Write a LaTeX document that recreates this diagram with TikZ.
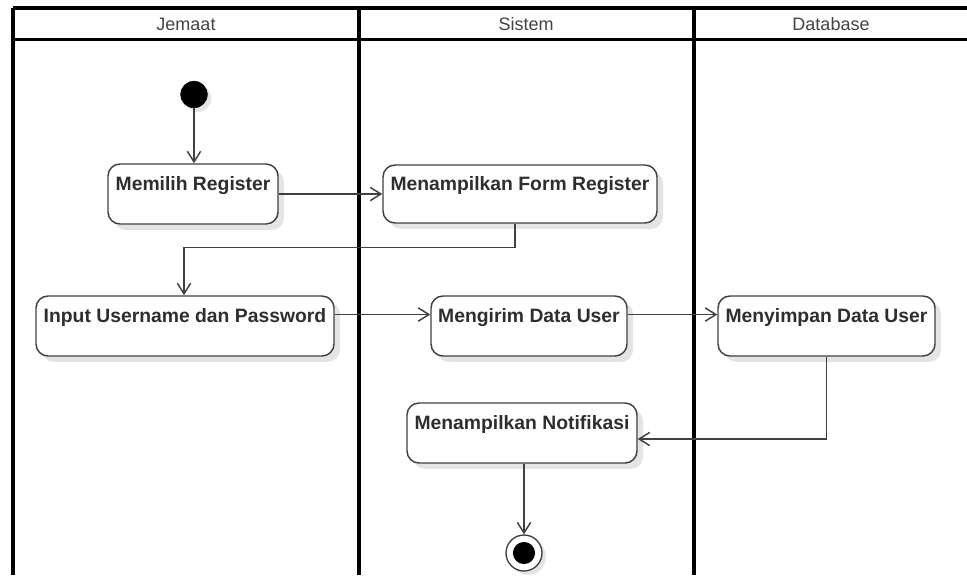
\documentclass[tikz,border=0pt]{standalone}
\usepackage{fontspec}
\setmainfont{Liberation Sans}
\usetikzlibrary{arrows.meta,shadows}
\definecolor{edge}{HTML}{404040}
\definecolor{ink}{HTML}{2E2E2E}
\definecolor{shade}{HTML}{E4E4E4}
\tikzset{
  lane/.style={line width=2.4pt, draw=black},
  lanetitle/.style={font=\fontsize{13.5}{16}\selectfont, text=ink!90, anchor=center},
  actbox/.style={draw=edge, line width=1.1pt, rounded corners=9pt, fill=white,
    font=\bfseries\fontsize{14.5}{17}\selectfont, text=ink,
    text height=10.5pt, text depth=16.5pt, inner sep=0pt,
    drop shadow={shadow xshift=4.5pt, shadow yshift=-4.5pt, fill=shade, opacity=1}},
  startdot/.style={circle, fill=black, draw=black, minimum size=20pt, inner sep=0pt,
    drop shadow={shadow xshift=3pt, shadow yshift=-3pt, fill=shade, opacity=1}},
  enddot/.style={circle, fill=white, draw=edge, line width=1pt, minimum size=27pt, inner sep=0pt,
    drop shadow={shadow xshift=3pt, shadow yshift=-3pt, fill=shade, opacity=1}},
  flow/.style={draw=edge, line width=1.1pt, -{Straight Barb[length=8pt,width=10pt,line width=1.1pt]}},
  link/.style={draw=edge, line width=1.1pt},
}
\begin{document}
\begin{tikzpicture}[x=0.75pt,y=-0.75pt]
\useasboundingbox (0,0) rectangle (967,575);

% swimlane frame
\draw[lane] (13,8) -- (967,8);
\draw[lane] (13,39.5) -- (967,39.5);
\draw[lane] (13,8) -- (13,575);
\draw[lane] (359,8) -- (359,575);
\draw[lane] (694,8) -- (694,575);
\node[lanetitle] (tjemaat) at (186,24) {Jemaat};
\node[lanetitle] (tsistem) at (526,24) {Sistem};
\node[lanetitle] (tdb) at (831,24) {Database};

% activities
\node[startdot] (start) at (194,94.5) {};
\node[actbox, minimum width=170*0.75pt, minimum height=60*0.75pt] (memilih) at (193,194) {Memilih Register};
\node[actbox, minimum width=274*0.75pt, minimum height=58*0.75pt] (form) at (520,194) {Menampilkan Form Register};
\node[actbox, minimum width=298*0.75pt, minimum height=60*0.75pt] (input) at (185,326) {Input Username dan Password};
\node[actbox, minimum width=196*0.75pt, minimum height=60*0.75pt] (kirim) at (529,326) {Mengirim Data User};
\node[actbox, minimum width=217*0.75pt, minimum height=60*0.75pt] (simpan) at (826.5,326) {Menyimpan Data User};
\node[actbox, minimum width=230*0.75pt, minimum height=60*0.75pt] (notif) at (522,433) {Menampilkan Notifikasi};
\node[enddot] (finish) at (524,553) {};
\fill[black] (finish.center) circle (8.3pt);

% control flow
\draw[flow] (start) -- (memilih.north -| start);
\draw[flow] (memilih.east) -- (form.west);
\draw[link] ([xshift=-3.75pt]form.south) -- ++(0,24) coordinate (bend1);
\draw[flow] (bend1) -| ([xshift=-0.75pt]input.north);
\draw[flow] ([yshift=8.6pt]input.east) -- ([yshift=8.6pt]kirim.west);
\draw[flow] ([yshift=8.6pt]kirim.east) -- ([yshift=8.6pt]simpan.west);
\draw[flow] (simpan.south) |- ([yshift=-4.5pt]notif.east);
\draw[flow] (notif.south -| finish) -- (finish.north);
\end{tikzpicture}
\end{document}
